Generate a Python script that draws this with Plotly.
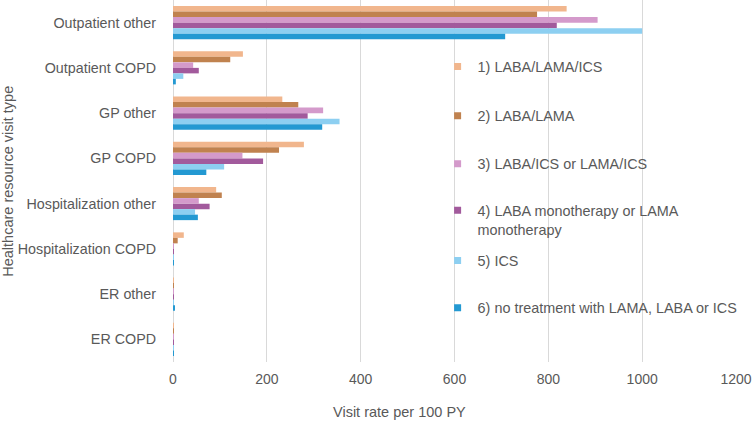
import plotly.graph_objects as go

categories = ["Outpatient other", "Outpatient COPD", "GP other", "GP COPD",
              "Hospitalization other", "Hospitalization COPD", "ER other", "ER COPD"]

series_names = ["1) LABA/LAMA/ICS", "2) LABA/LAMA", "3) LABA/ICS or LAMA/ICS",
                "4) LABA monotherapy or LAMA<br>monotherapy", "5) ICS",
                "6) no treatment with LAMA, LABA or ICS"]

s1_laba_lama_ics = [839, 149, 233, 279, 92, 23, 2, 0.3]
s2_laba_lama = [776, 122, 267, 226, 104, 10, 1, 0.3]
s3_laba_ics_or_lama_ics = [905, 43, 320, 148, 55, 1, 2, 0.3]
s4_mono = [818, 55, 287, 192, 78, 2, 1, 0.3]
s5_ics = [1000, 22, 355, 109, 47, 0.5, 1, 0.3]
s6_no_treatment = [708, 6, 318, 71, 53, 0.5, 3, 0.3]

series_values = [s1_laba_lama_ics, s2_laba_lama, s3_laba_ics_or_lama_ics,
                 s4_mono, s5_ics, s6_no_treatment]
colors = ["#F1B68D", "#C0824F", "#D49ACB", "#A25A9C", "#8DCFF1", "#2399D2"]

x_ticks = [0, 200, 400, 600, 800, 1000, 1200]

W, H = 753, 421
ML, MR, MT, MB = 173.3, 16.5, 0, 59
PW, PH = W - ML - MR, H - MT - MB
FONT = "Liberation Sans, Arial, sans-serif"
GREY = "#595959"

fig = go.Figure()
for name, vals, col in zip(series_names, series_values, colors):
    fig.add_trace(go.Bar(y=categories, x=vals, orientation="h", name=name,
                         marker=dict(color=col, line=dict(width=0)),
                         showlegend=False))

# legend entries (one legend per entry to reproduce the spacing)
legend_text_y = [66.7, 116, 164, 220, 260.7, 308]
layout_legends = {}
for i, (name, col, ypx) in enumerate(zip(series_names, colors, legend_text_y)):
    key = "legend" if i == 0 else f"legend{i+1}"
    fig.add_trace(go.Scatter(x=[None], y=[None], mode="markers", name=name,
                             marker=dict(symbol="square", size=7, color=col),
                             legend=key, showlegend=True))
    layout_legends[key] = dict(
        x=(438 - ML) / PW, xanchor="left",
        y=1 - (ypx - MT) / PH, yanchor="middle",
        bgcolor="rgba(0,0,0,0)", borderwidth=0,
        font=dict(family=FONT, size=14.4, color=GREY),
        valign="top", tracegroupgap=0,
    )

fig.update_layout(
    width=W, height=H,
    margin=dict(l=ML, r=MR, t=MT, b=MB, pad=0),
    paper_bgcolor="white", plot_bgcolor="white",
    barmode="group", bargap=0.27, bargroupgap=0,
    font=dict(family=FONT, size=14, color=GREY),
    xaxis=dict(range=[0, 1200], tickvals=x_ticks, showgrid=True,
               gridcolor="#D9D9D9", gridwidth=1, zeroline=True,
               zerolinecolor="#D9D9D9", zerolinewidth=1, showline=False,
               ticks="", ticklabelstandoff=7,
               tickfont=dict(family=FONT, size=14, color=GREY), fixedrange=True),
    yaxis=dict(categoryorder="array", categoryarray=categories,
               autorange="reversed", showgrid=False, zeroline=False,
               showline=False, ticks="", ticklabelstandoff=16, fixedrange=True,
               tickfont=dict(family=FONT, size=14.3, color=GREY)),
    annotations=[
        dict(text="Visit rate per 100 PY", xref="paper", yref="paper",
             x=(400 - ML) / PW, y=1 - (411.7 - MT) / PH, xanchor="center",
             yanchor="middle", showarrow=False,
             font=dict(family=FONT, size=14.5, color=GREY)),
        dict(text="Healthcare resource visit type", xref="paper", yref="paper",
             x=(8 - ML) / PW, y=1 - (181 - MT) / PH, xanchor="center",
             yanchor="middle", showarrow=False, textangle=-90,
             font=dict(family=FONT, size=14.5, color=GREY)),
    ],
    **layout_legends,
)

fig.write_html("out.html",
               config={"displayModeBar": False},
               post_script="document.body.style.margin='0px';")
